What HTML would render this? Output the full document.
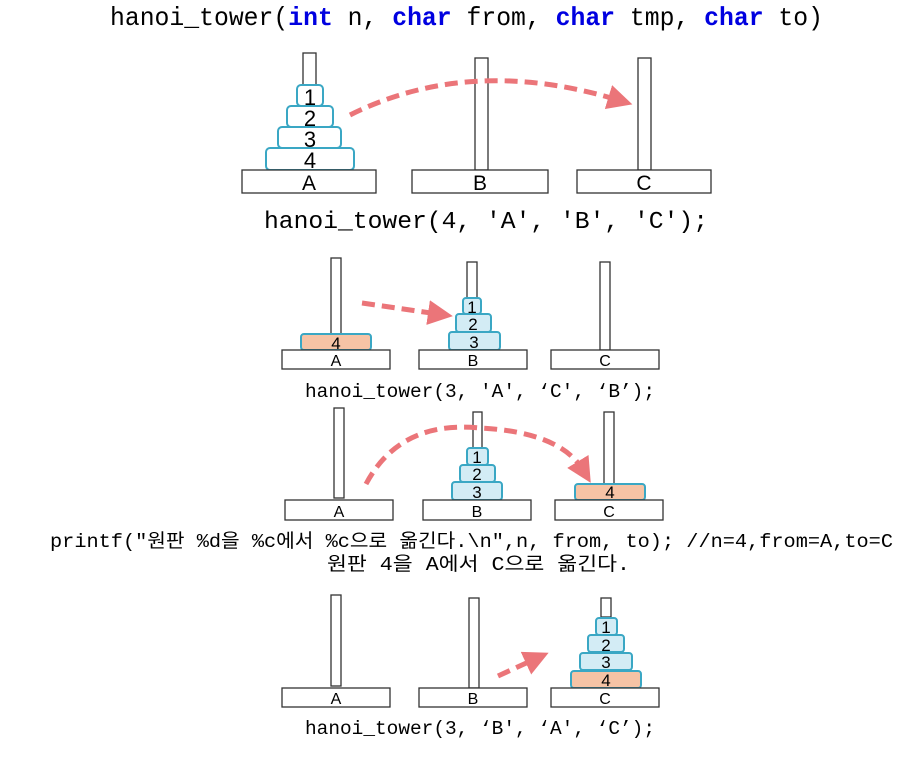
<!DOCTYPE html>
<html><head><meta charset="utf-8"><style>
html,body{margin:0;padding:0;background:#fff;}
svg{display:block}
.m{font-family:"Liberation Mono","Noto Sans CJK KR",monospace;fill:#000}
.s{font-family:"Liberation Sans","Noto Sans CJK KR",sans-serif;fill:#000;text-anchor:middle}
.k{fill:#0000e0;font-weight:bold}
.b{fill:#fff;stroke:#333;stroke-width:1.3}
.d{fill:#fff;stroke:#3aa7c4;stroke-width:2}
.dl{fill:#d3ecf5;stroke:#3aa7c4;stroke-width:2}
.do{fill:#f6c3a5;stroke:#3aa7c4;stroke-width:2}
.ar{fill:none;stroke:#eb7579;stroke-width:5;stroke-dasharray:13 7}
</style></head><body>
<svg width="915" height="760" viewBox="0 0 915 760" xmlns="http://www.w3.org/2000/svg">
<defs><marker id="ah" markerWidth="5" markerHeight="5" refX="2" refY="2.5" orient="auto" markerUnits="strokeWidth"><path d="M0,0 L5,2.5 L0,5 z" fill="#eb7579"/></marker></defs>

<text class="m" x="110" y="25" font-size="26" textLength="713" lengthAdjust="spacingAndGlyphs">hanoi_tower(<tspan class="k">int</tspan> n, <tspan class="k">char</tspan> from, <tspan class="k">char</tspan> tmp, <tspan class="k">char</tspan> to)</text>

<!-- Section 1 -->
<rect class="b" x="303" y="53" width="13" height="33"/>
<rect class="b" x="475" y="58" width="13" height="112"/>
<rect class="b" x="638" y="58" width="13" height="112"/>
<rect class="d" x="266" y="148" width="88" height="22" rx="4"/>
<rect class="d" x="278" y="127" width="63" height="21" rx="4"/>
<rect class="d" x="287" y="106" width="46" height="21" rx="4"/>
<rect class="d" x="297" y="85" width="26" height="21" rx="4"/>
<text class="s" x="310" y="105" font-size="22">1</text>
<text class="s" x="310" y="126" font-size="22">2</text>
<text class="s" x="310" y="147" font-size="22">3</text>
<text class="s" x="310" y="168" font-size="22">4</text>
<rect class="b" x="242" y="170" width="134" height="23"/>
<rect class="b" x="412" y="170" width="136" height="23"/>
<rect class="b" x="577" y="170" width="134" height="23"/>
<text class="s" x="309" y="190" font-size="21">A</text>
<text class="s" x="480" y="190" font-size="21">B</text>
<text class="s" x="644" y="190" font-size="21">C</text>
<path class="ar" d="M350,115 Q470,55 618,100" marker-end="url(#ah)"/>
<text class="m" x="264" y="228" font-size="24" textLength="444" lengthAdjust="spacingAndGlyphs">hanoi_tower(4, 'A', 'B', 'C');</text>

<!-- Section 2 -->
<rect class="b" x="331" y="258" width="10" height="76"/>
<rect class="b" x="467" y="262" width="10" height="36"/>
<rect class="b" x="600" y="262" width="10" height="88"/>
<rect class="do" x="301" y="334" width="70" height="16" rx="3"/>
<rect class="dl" x="449" y="332" width="51" height="18" rx="3"/>
<rect class="dl" x="456" y="314" width="35" height="18" rx="3"/>
<rect class="dl" x="463" y="298" width="18" height="16" rx="3"/>
<text class="s" x="336" y="349" font-size="17">4</text>
<text class="s" x="472" y="313" font-size="17">1</text>
<text class="s" x="473" y="330" font-size="17">2</text>
<text class="s" x="474" y="348" font-size="17">3</text>
<rect class="b" x="282" y="350" width="108" height="19"/>
<rect class="b" x="419" y="350" width="108" height="19"/>
<rect class="b" x="551" y="350" width="108" height="19"/>
<text class="s" x="336" y="366" font-size="16">A</text>
<text class="s" x="473" y="366" font-size="16">B</text>
<text class="s" x="605" y="366" font-size="16">C</text>
<path class="ar" d="M362,303 L438,314" marker-end="url(#ah)" stroke-width="4"/>
<text class="m" x="305" y="397" font-size="19" textLength="350" lengthAdjust="spacingAndGlyphs">hanoi_tower(3, 'A', ‘C', ‘B’);</text>

<!-- Section 3 -->
<rect class="b" x="334" y="408" width="10" height="90"/>
<rect class="b" x="473" y="412" width="9" height="37"/>
<rect class="b" x="604" y="412" width="10" height="72"/>
<rect class="dl" x="452" y="482" width="50" height="18" rx="3"/>
<rect class="dl" x="460" y="465" width="35" height="17" rx="3"/>
<rect class="dl" x="467" y="448" width="21" height="17" rx="3"/>
<rect class="do" x="575" y="484" width="70" height="16" rx="3"/>
<text class="s" x="477" y="463" font-size="17">1</text>
<text class="s" x="477" y="480" font-size="17">2</text>
<text class="s" x="477" y="498" font-size="17">3</text>
<text class="s" x="610" y="498" font-size="17">4</text>
<rect class="b" x="285" y="500" width="108" height="20"/>
<rect class="b" x="423" y="500" width="108" height="20"/>
<rect class="b" x="555" y="500" width="108" height="20"/>
<text class="s" x="339" y="517" font-size="16">A</text>
<text class="s" x="477" y="517" font-size="16">B</text>
<text class="s" x="609" y="517" font-size="16">C</text>
<path class="ar" d="M366,484 Q400,420 480,428 Q560,432 583,470" marker-end="url(#ah)" stroke-width="4"/>
<text class="m" x="50" y="547" font-size="19" textLength="843" lengthAdjust="spacingAndGlyphs">printf("원판 %d을 %c에서 %c으로 옮긴다.\n",n, from, to); //n=4,from=A,to=C</text>
<text class="m" x="327" y="570" font-size="19" textLength="303" lengthAdjust="spacingAndGlyphs">원판 4을 A에서 C으로 옮긴다.</text>

<!-- Section 4 -->
<rect class="b" x="331" y="595" width="10" height="91"/>
<rect class="b" x="469" y="598" width="10" height="90"/>
<rect class="b" x="601" y="598" width="10" height="19"/>
<rect class="do" x="571" y="671" width="70" height="17" rx="3"/>
<rect class="dl" x="580" y="653" width="52" height="17" rx="3"/>
<rect class="dl" x="588" y="635" width="36" height="17" rx="3"/>
<rect class="dl" x="596" y="618" width="21" height="17" rx="3"/>
<text class="s" x="606" y="633" font-size="17">1</text>
<text class="s" x="606" y="651" font-size="17">2</text>
<text class="s" x="606" y="668" font-size="17">3</text>
<text class="s" x="606" y="686" font-size="17">4</text>
<rect class="b" x="282" y="688" width="108" height="19"/>
<rect class="b" x="419" y="688" width="108" height="19"/>
<rect class="b" x="551" y="688" width="108" height="19"/>
<text class="s" x="336" y="704" font-size="16">A</text>
<text class="s" x="473" y="704" font-size="16">B</text>
<text class="s" x="605" y="704" font-size="16">C</text>
<path class="ar" d="M498,676 L535,659" marker-end="url(#ah)" stroke-width="4"/>
<text class="m" x="305" y="734" font-size="19" textLength="350" lengthAdjust="spacingAndGlyphs">hanoi_tower(3, ‘B', ‘A', ‘C’);</text>
</svg>
</body></html>
